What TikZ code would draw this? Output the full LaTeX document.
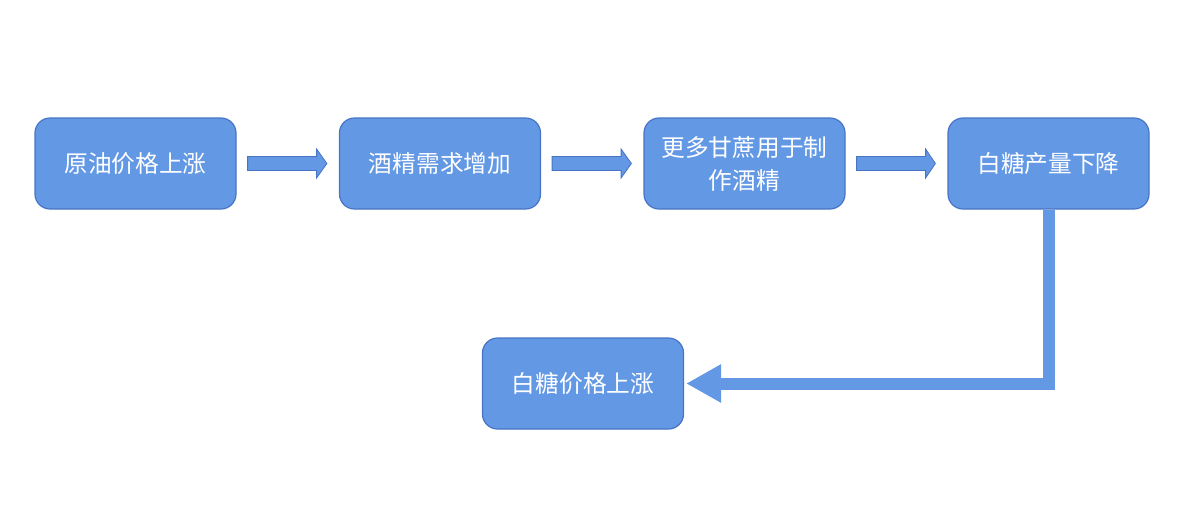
\documentclass[tikz,border=0pt]{standalone}
\usepackage{fontspec}
\newfontfamily\cjk{Noto Sans CJK SC}
\usetikzlibrary{arrows.meta,calc}
\definecolor{boxfill}{RGB}{99,152,228}
\definecolor{boxline}{RGB}{72,116,196}
\tikzset{
  stepbox/.style={draw=boxline, line width=1.2pt, fill=boxfill, rounded corners=15pt,
    minimum width=201pt, minimum height=91pt, inner sep=0pt,
    text=white, align=center, font=\cjk\fontsize{23.7pt}{33pt}\selectfont},
  blockarrow/.style={draw=boxline, line width=0.8pt, fill=boxfill},
  elbow/.style={draw=boxfill, line width=12pt, line join=miter,
    -{Triangle[length=35pt,width=36pt]}}
}
\begin{document}
\begin{tikzpicture}[x=1pt,y=-1pt]
\useasboundingbox (0,0) rectangle (1200,523);
\node[stepbox] (a) at (135.5,163.5) {原油价格上涨};
\node[stepbox] (b) at (440,163.5) {酒精需求增加};
\node[stepbox] (c) at (744.5,163.5) {更多甘蔗用于制\\作酒精};
\node[stepbox] (d) at (1048.5,163.5) {白糖产量下降};
\node[stepbox] (e) at (583,383.5) {白糖价格上涨};
\foreach \s/\t in {a/b,b/c,c/d}{
  \draw[blockarrow] ($(\s.east)+(11,-7)$) -- ($(\s.east)+(80,-7)$) -- ($(\s.east)+(80,-14.5)$)
    -- ($(\t.west)+(-12,0)$) -- ($(\s.east)+(80,14.5)$) -- ($(\s.east)+(80,7)$)
    -- ($(\s.east)+(11,7)$) -- cycle;
}
\draw[elbow] (d.south) |- ($(e.east)+(2,0)$);
\end{tikzpicture}
\end{document}
